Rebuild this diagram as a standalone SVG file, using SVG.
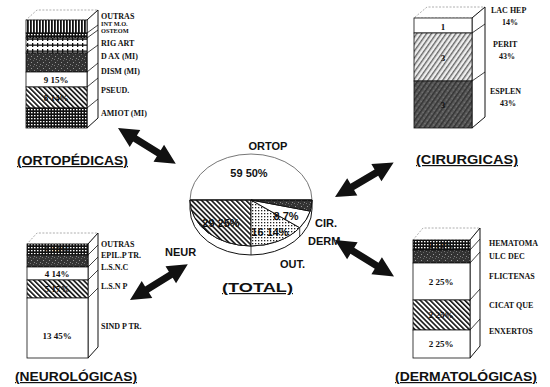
<svg xmlns="http://www.w3.org/2000/svg" width="550" height="387" viewBox="0 0 550 387">
<defs>
<pattern id="hatch" width="3.5" height="3.5" patternUnits="userSpaceOnUse" patternTransform="rotate(-45)">
<rect width="3.5" height="3.5" fill="#fff"/><rect width="1.6" height="3.5" fill="#111"/></pattern>
<pattern id="hatchL" width="4" height="4" patternUnits="userSpaceOnUse" patternTransform="rotate(35)">
<rect width="4" height="4" fill="#eee"/><rect width="1.4" height="4" fill="#666"/></pattern>
<pattern id="hatchD" width="4" height="4" patternUnits="userSpaceOnUse" patternTransform="rotate(35)">
<rect width="4" height="4" fill="#5a5a5a"/><rect width="1.5" height="4" fill="#333"/><rect x="2.5" y="1" width="1" height="1" fill="#888"/></pattern>
<pattern id="vstripe" width="3" height="3" patternUnits="userSpaceOnUse">
<rect width="3" height="3" fill="#fff"/><rect width="1.8" height="3" fill="#111"/></pattern>
<pattern id="grid" width="3" height="3" patternUnits="userSpaceOnUse">
<rect width="3" height="3" fill="#111"/><rect x="1" y="1" width="1.5" height="1.3" fill="#fff"/></pattern>
<pattern id="dots" width="3" height="3" patternUnits="userSpaceOnUse">
<rect width="3" height="3" fill="#fff"/><rect width="1.3" height="1.3" fill="#222"/></pattern>
<pattern id="speck" width="6" height="6" patternUnits="userSpaceOnUse">
<rect width="6" height="6" fill="#333"/><rect x="1" y="2" width="1" height="1" fill="#999"/><rect x="4" y="4" width="1" height="1" fill="#888"/><rect x="3" y="0" width="1" height="1" fill="#666"/><rect x="0" y="5" width="1" height="1" fill="#777"/></pattern>
<pattern id="fence" width="5" height="6" patternUnits="userSpaceOnUse">
<rect width="5" height="6" fill="#fff"/><rect y="2.5" width="5" height="1.3" fill="#111"/><rect x="2" y="1" width="1.3" height="4" fill="#111"/></pattern>
<path id="darrow" d="M0,0 L20,-10 L20,-3.6 L48,-3.6 L48,-10 L68,0 L48,10 L48,3.6 L20,3.6 L20,10 Z"/>
</defs>
<style>
.lbl{font-family:"Liberation Serif",serif;font-weight:bold;font-size:8px;fill:#111}
.sm{font-size:6.3px}
.val{font-family:"Liberation Serif",serif;font-weight:bold;font-size:9px;fill:#111;text-anchor:middle}
.pie{font-family:"Liberation Sans",Arial,sans-serif;font-weight:bold;font-size:11px;fill:#111}
.ttl{font-family:"Liberation Sans",Arial,sans-serif;font-weight:bold;font-size:12px;fill:#111;text-decoration:underline}
.edge{fill:#fff;stroke:#111;stroke-width:1}
.top{fill:#fff;stroke:#999;stroke-width:0.8;stroke-dasharray:2 1.5}
.seg{stroke:#111;stroke-width:0.8}
.ld{stroke:#111;stroke-width:0.8;fill:none}
.arr{fill:#111}
</style>
<rect width="550" height="387" fill="#fff"/>

<g id="ortopedicas">
<polygon class="top" points="26,20 87,20 98,10 37,10"/>
<polygon class="edge" points="87,20 98,10 98,118 87,128"/>
<rect class="seg" x="26" y="20" width="61" height="13" fill="url(#vstripe)"/>
<rect class="seg" x="26" y="33" width="61" height="5" fill="url(#grid)"/>
<rect class="seg" x="26" y="38" width="61" height="15" fill="url(#fence)"/>
<rect class="seg" x="26" y="53" width="61" height="19" fill="url(#speck)"/>
<rect class="seg" x="26" y="72" width="61" height="15" fill="#fff"/>
<rect class="seg" x="26" y="87" width="61" height="21" fill="url(#hatch)"/>
<rect class="seg" x="26" y="108" width="61" height="20" fill="url(#grid)"/>
<path class="ld" d="M87,33 L98,25 M87,38 L98,30 M87,53 L98,45 M87,72 L98,63 M87,87 L98,78 M87,108 L98,99"/>
<text class="val" x="56" y="83">9 15%</text>
<text class="val" x="56" y="101">8 14%</text>
<text class="lbl" x="101" y="19">OUTRAS</text>
<text class="lbl sm" x="101" y="26">INT M.O.</text>
<text class="lbl sm" x="101" y="32.5">OSTEOM</text>
<text class="lbl" x="101" y="46">RIG ART</text>
<text class="lbl" x="101" y="59">D AX (MI)</text>
<text class="lbl" x="101" y="74">DISM (MI)</text>
<text class="lbl" x="101" y="93">PSEUD.</text>
<text class="lbl" x="101" y="116">AMIOT (MI)</text>
<text class="ttl" x="17" y="165" textLength="111" lengthAdjust="spacingAndGlyphs">(ORTOPÉDICAS)</text>
</g>

<g id="cirurgicas">
<polygon class="top" points="414,18 472,18 485,7 427,7"/>
<polygon class="edge" points="472,18 485,7 485,117 472,128"/>
<rect class="seg" x="414" y="18" width="58" height="15" fill="#fff"/>
<rect class="seg" x="414" y="33" width="58" height="48" fill="url(#hatchL)"/>
<rect class="seg" x="414" y="81" width="58" height="47" fill="url(#hatchD)"/>
<path class="ld" d="M472,33 L485,24 M472,81 L485,72"/>
<text class="val" x="443" y="30">1</text>
<text class="val" x="443" y="61">3</text>
<text class="val" x="443" y="108" fill="#222">3</text>
<text class="lbl" x="491" y="13">LAC HEP</text>
<text class="lbl" x="502" y="25">14%</text>
<text class="lbl" x="493" y="47">PERIT</text>
<text class="lbl" x="499" y="59">43%</text>
<text class="lbl" x="490" y="94">ESPLEN</text>
<text class="lbl" x="500" y="106">43%</text>
<text class="ttl" x="416" y="164" textLength="102" lengthAdjust="spacingAndGlyphs">(CIRURGICAS)</text>
</g>

<g id="neurologicas">
<polygon class="top" points="27,244 88,244 98,233 37,233"/>
<polygon class="edge" points="88,244 98,233 98,347 88,358"/>
<rect class="seg" x="27" y="244" width="61" height="11" fill="url(#grid)"/>
<rect class="seg" x="27" y="255" width="61" height="12" fill="url(#speck)"/>
<rect class="seg" x="27" y="267" width="61" height="13" fill="#fff"/>
<rect class="seg" x="27" y="280" width="61" height="18" fill="url(#hatch)"/>
<rect class="seg" x="27" y="298" width="61" height="60" fill="#fff"/>
<path class="ld" d="M88,255 L98,245 M88,267 L98,257 M88,280 L98,270 M88,298 L98,288"/>
<text class="val" x="57" y="253" fill="#555">3 10%</text>
<text class="val" x="57" y="277">4 14%</text>
<text class="val" x="57" y="292">5 17%</text>
<text class="val" x="57" y="339">13 45%</text>
<text class="lbl" x="101" y="247">OUTRAS</text>
<text class="lbl" x="101" y="258">EPIL.P TR.</text>
<text class="lbl" x="101" y="270">L.S.N.C</text>
<text class="lbl" x="101" y="289">L.S.N P</text>
<text class="lbl" x="101" y="329">SIND P TR.</text>
<text class="ttl" x="15" y="381" textLength="122" lengthAdjust="spacingAndGlyphs">(NEUROLÓGICAS)</text>
</g>

<g id="dermatologicas">
<polygon class="top" points="413,240 470,240 480,228 423,228"/>
<polygon class="edge" points="470,240 480,228 480,346 470,358"/>
<rect class="seg" x="413" y="240" width="57" height="10" fill="url(#grid)"/>
<rect class="seg" x="413" y="250" width="57" height="13" fill="url(#speck)"/>
<rect class="seg" x="413" y="263" width="57" height="37" fill="#fff"/>
<rect class="seg" x="413" y="300" width="57" height="30" fill="url(#hatch)"/>
<rect class="seg" x="413" y="330" width="57" height="28" fill="#fff"/>
<path class="ld" d="M470,250 L480,239 M470,263 L480,252 M470,300 L480,289 M470,330 L480,319"/>
<text class="val" x="441" y="248" fill="#555">1 13%</text>
<text class="val" x="441" y="285">2 25%</text>
<text class="val" x="441" y="318">2 25%</text>
<text class="val" x="441" y="347">2 25%</text>
<text class="lbl" x="489" y="246">HEMATOMA</text>
<text class="lbl" x="489" y="259">ULC DEC</text>
<text class="lbl" x="489" y="279">FLICTENAS</text>
<text class="lbl" x="489" y="308">CICAT QUE</text>
<text class="lbl" x="489" y="334">ENXERTOS</text>
<text class="ttl" x="395" y="381" textLength="142" lengthAdjust="spacingAndGlyphs">(DERMATOLÓGICAS)</text>
</g>

<g id="total">
<path class="edge" d="M190,200 L190,209 A61,46 0 0 0 312,209 L312,200 A61,46 0 0 1 190,200 Z"/>
<path class="ld" d="M251,246 L251,255 M299.7,227.7 L299.7,236.7"/>
<path fill="#fff" stroke="#777" stroke-width="1" d="M190,200 A61,46 0 0 1 312,200 Z"/>
<path fill="url(#hatch)" stroke="#111" stroke-width="1" d="M251,200 L190,200 A61,46 0 0 0 251,246 Z"/>
<path fill="url(#dots)" stroke="#111" stroke-width="1" d="M251,200 L251,246 A61,46 0 0 0 299.7,227.7 Z"/>
<path fill="#fff" stroke="#111" stroke-width="1" d="M251,200 L299.7,227.7 A61,46 0 0 0 310.2,211.1 Z"/>
<path fill="url(#speck)" stroke="#111" stroke-width="1" d="M251,200 L310.2,211.1 A61,46 0 0 0 312,200 Z"/>
<path fill="none" stroke="#111" stroke-width="1" d="M190,200 L312,200"/>
<text class="pie" x="249" y="177" text-anchor="middle">59 50%</text>
<text class="pie" x="221" y="227" text-anchor="middle" font-size="9">29 25%</text>
<text class="pie" x="270" y="236" text-anchor="middle" font-size="8.5">16 14%</text>
<text class="pie" x="286" y="220" text-anchor="middle" font-size="8.5">8 7%</text>
<text class="pie" x="268" y="150" text-anchor="middle">ORTOP</text>
<text class="pie" x="315" y="227">CIR.</text>
<text class="pie" x="308" y="245">DERM.</text>
<text class="pie" x="280" y="268">OUT.</text>
<text class="pie" x="165" y="256">NEUR</text>
<text class="ttl" x="222" y="292" font-size="16" textLength="71" lengthAdjust="spacingAndGlyphs">(TOTAL)</text>
</g>

<g id="connectors" class="arr">
<use href="#darrow" transform="translate(118,128) rotate(31.8)"/>
<use href="#darrow" transform="translate(335,197) rotate(-30.4)"/>
<use href="#darrow" transform="translate(335,240) rotate(31.7) scale(1.02,1)"/>
<use href="#darrow" transform="translate(130,300) rotate(-31.8)"/>
</g>
</svg>
